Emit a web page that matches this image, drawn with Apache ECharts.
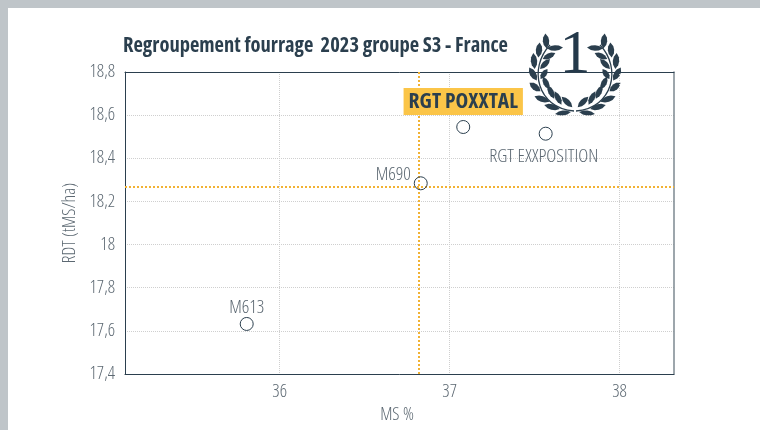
<!DOCTYPE html>
<html>
<head>
<meta charset="utf-8">
<script src="https://cdn.jsdelivr.net/npm/echarts@6/dist/echarts.min.js"></script>
<style>
  html, body { margin: 0; padding: 0; background: #bfc5c9; }
  #panel { position: absolute; left: 8px; top: 8px; width: 752px; height: 422px; background: #fff; }
  #main { position: absolute; left: 0; top: 0; width: 760px; height: 430px; }
</style>
</head>
<body>
<div id="panel"></div>
<div id="main"></div>
<script>
const names = ['M613', 'M690', 'RGT POXXTAL', 'RGT EXXPOSITION']
const msValues = [35.806, 36.83, 37.08, 37.565]
const rdtValues = [17.632, 18.284, 18.545, 18.514]
const xTicks = [36, 37, 38]
const refMs = 36.82
const refRdt = 18.267

const font = '"Open Sans", sans-serif'
const dark = '#2b3f4e'
const grey = '#5c6872'

// laurel leaves, left side: x offset from the centre, y, half length, half width, angle
const leaves = [
  [-29, 41, 7.5, 3.2, 85], [-36, 50, 7.5, 3.2, 95], [-20, 48, 8, 2.8, -3],
  [-41, 61, 8, 3.2, 85], [-26, 56, 7, 2.8, -25], [-30, 64, 7, 2.8, -45],
  [-42, 74, 7.5, 3.2, 60], [-31, 74, 6, 2.8, -55], [-40, 87, 7, 3.2, 38],
  [-29, 83, 7, 2.8, 65], [-33, 99, 8, 3, 20], [-24, 92, 7.5, 2.8, 65],
  [-23, 107, 8, 2.8, 15], [-17, 98, 7.5, 2.8, 63], [-12, 113, 8, 2.6, -8],
  [-8, 102, 7.5, 2.8, 45]
]

const laurelSide = (scaleX) => {
  const children = leaves.map((l) => ({
    type: 'polygon',
    x: l[0], y: l[1],
    rotation: -l[4] * Math.PI / 180,
    shape: {
      points: [[-l[2], 0], [-l[2] / 2, -l[3] * 0.8], [0, -l[3]], [l[2] / 2, -l[3] * 0.8],
        [l[2], 0], [l[2] / 2, l[3] * 0.8], [0, l[3]], [-l[2] / 2, l[3] * 0.8]]
    },
    style: { fill: dark }
  }))
  children.push({
    type: 'bezierCurve',
    shape: { x1: -25, y1: 45, cpx1: -47, cpy1: 68, cpx2: -38, cpy2: 108, x2: -1, y2: 111 },
    style: { fill: 'none', stroke: dark, lineWidth: 1.3 }
  })
  return { type: 'group', x: 575, y: 0, scaleX: scaleX, children: children }
}

const chartDom = document.getElementById('main')
const myChart = echarts.init(chartDom)
const option = {
  animation: false,
  title: {
    text: 'Regroupement fourrage  2023 groupe S3 - France',
    left: 118, top: 31,
    textStyle: { fontFamily: font, fontSize: 20.5, fontWeight: 'bold condensed', color: dark }
  },
  grid: { left: 125, right: 86, top: 72, bottom: 56 },
  xAxis: [{
    type: 'value',
    min: 35.09, max: 38.32,
    name: 'MS %', nameLocation: 'middle', nameGap: 30,
    nameTextStyle: { fontFamily: font, fontSize: 18, fontWeight: '300 condensed', color: grey, padding: [0, 5, 0, 0] },
    axisLine: { show: true, onZero: false, lineStyle: { color: dark, width: 1 } },
    axisTick: { show: false, customValues: xTicks },
    axisLabel: { customValues: xTicks, fontFamily: font, fontSize: 18, fontWeight: '300 condensed', color: grey, margin: 9 },
    splitLine: { show: true, lineStyle: { color: '#cfcfcf', type: 'dotted', width: 1 } }
  }, {
    type: 'value', position: 'top',
    min: 35.09, max: 38.32,
    axisLine: { show: true, onZero: false, lineStyle: { color: dark, width: 1 } },
    axisTick: { show: false }, axisLabel: { show: false }, splitLine: { show: false }
  }],
  yAxis: [{
    type: 'value',
    min: 17.4, max: 18.8, interval: 0.2,
    name: 'RDT (tMS/ha)', nameLocation: 'middle', nameGap: 45,
    nameTextStyle: { fontFamily: font, fontSize: 18, fontWeight: '300 condensed', color: grey },
    axisLine: { show: true, onZero: false, lineStyle: { color: dark, width: 1 } },
    axisTick: { show: false },
    axisLabel: {
      fontFamily: font, fontSize: 18, fontWeight: '300 condensed', color: grey, margin: 10,
      formatter: (v) => String(Number(v.toFixed(1))).replace('.', ',')
    },
    splitLine: { show: true, lineStyle: { color: '#cfcfcf', type: 'dotted', width: 1 } }
  }, {
    type: 'value', position: 'right',
    min: 17.4, max: 18.8, interval: 0.2,
    axisLine: { show: true, onZero: false, lineStyle: { color: '#7d8891', width: 1.5 } },
    axisTick: { show: false }, axisLabel: { show: false }, splitLine: { show: false }
  }],
  series: [{
    type: 'scatter',
    symbol: 'circle',
    symbolSize: 13,
    z: 5,
    itemStyle: { opacity: 1, color: 'rgba(255,255,255,0)', borderColor: dark, borderWidth: 1 },
    label: { show: true, fontFamily: font, fontSize: 18.5, fontWeight: '300 condensed', color: grey, formatter: '{b}' },
    data: names.map((name, i) => {
      let label = { position: 'top', distance: 0 }
      if (i == 1) label = { position: 'left', distance: 3, offset: [0, -9] }
      if (i == 2) label = {
        position: 'top', distance: 5,
        backgroundColor: '#fbc548', color: dark, fontWeight: 'bold condensed', fontSize: 21.5,
        padding: [3, 5, 2, 5]
      }
      if (i == 3) label = { position: 'bottom', distance: 6, fontSize: 19, offset: [-2, 0] }
      return { name: name, value: [msValues[i], rdtValues[i]], label: label }
    }),
    markLine: {
      silent: true,
      symbol: 'none',
      label: { show: false },
      lineStyle: { color: '#f2b233', type: 'dotted', width: 2 },
      data: [{ xAxis: refMs }, { yAxis: refRdt }]
    }
  }],
  graphic: [
    laurelSide(1),
    laurelSide(-1),
    {
      type: 'text',
      x: 575, y: 25,
      style: { text: '1', fontFamily: '"Liberation Serif", serif', fontSize: 62, fill: '#24394a', textAlign: 'center' }
    }
  ]
}
option && myChart.setOption(option)
</script>
</body>
</html>
